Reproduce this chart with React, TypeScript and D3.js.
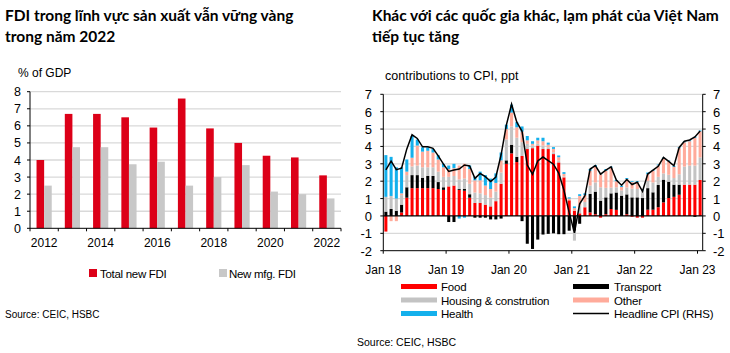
import React from "react";
import * as d3 from "d3";

// ---- left chart data (% of GDP)
const fdiYears = ["2012", "2013", "2014", "2015", "2016", "2017", "2018", "2019", "2020", "2021", "2022"];
const totalNewFdi = [4.0, 6.7, 6.7, 6.5, 5.9, 7.6, 5.85, 5.0, 4.25, 4.15, 3.1];
const newMfgFdi = [2.5, 4.75, 4.75, 3.75, 3.9, 2.5, 3.0, 3.7, 2.15, 2.0, 1.75];
const fdiTickYears = ["2012", "2014", "2016", "2018", "2020", "2022"];
const fdiYTicks = [0, 1, 2, 3, 4, 5, 6, 7, 8];

// ---- right chart data (contributions to CPI, ppt), monthly Jan 18 .. Jan 23
const food = [
  -0.9, 0, 0, 0.2, 1.05, 1.6, 1.6, 1.6, 1.6, 1.6, 1.55, 1.5,
  1.7, 1.75, 1.5, 1.45, 1.05, 0.75, 0.75, 0.65, 0.55, 0.85, 1.85, 3.0,
  3.6, 3.1, 3.45, 3.85, 3.9, 4.05, 3.85, 3.85, 3.56, 3.08, 2.22, 0.9,
  0.3, 0.15, 0.5, 0.2, 0.1, -0.1, 0.1, 0.4, 0.35, 0, 0.1, -0.05,
  -0.1, -0.1, 0.36, 0.36, 0.5, 0.78, 1.03, 1.1, 1.22, 1.8, 1.8, 1.8,
  2.07,
];
const transport = [
  0.25, 0.4, 0.3, 0.45, 0.6, 0.75, 0.75, 0.6, 0.7, 0.7, 0.4, 0.15,
  -0.35, -0.35, 0.05, 0.1, 0.2, -0.1, -0.1, -0.1, -0.2, -0.2, -0.15, 0.2,
  0.5, 0.3, -0.3, -1.6, -1.9, -1.36, -1.07, -1.03, -1.0, -1.05, -1.05, -0.85,
  -0.85, -0.45, 0, 1.07, 1.3, 0.88, 0.97, 0.9, 1.0, 1.17, 1.14, 1.07,
  1.07, 1.03, 1.24, 1.0, 1.28, 1.31, 0.94, 0.7, 0.58, 0, 0, -0.05,
  0,
];
const housing = [
  0.85, 0.75, 0.7, 0.55, 0.7, 0.5, 0.55, 0.6, 0.5, 0.5, 0.6, 0.6,
  0.55, 0.55, 0.55, 0.6, 0.6, 0.6, 0.55, 0.55, 0.5, 0.55, 0.65, 1.2,
  1.05, 1.1, 0.8, 0.3, 0.15, 0.1, 0.2, 0.1, 0.1, 0.1, 0.05, 0,
  -0.57, 0.45, 0.3, 0.48, 0.53, 0.77, 0.55, 0.33, 0.3, 0.3, 0.4, 0.5,
  0.48, 0.45, 0.42, 0.57, 0.47, 0.36, 0.4, 0.38, 0.6, 1.04, 1.1, 1.1,
  1.3,
];
const other = [
  0, -0.3, -0.3, 0.1, 0.2, 0.5, 1.15, 0.9, 0.95, 0.85, 0.7, 0.55,
  0.45, 0.45, 0.8, 0.85, 0.85, 0.7, 0.75, 0.55, 0.5, 0.5, 0.7, 0.6,
  0.8, 0.6, 0.6, 0.2, 0.1, 0.2, 0.25, 0.15, 0.2, 0.2, 0.15, 0.1,
  0.15, 0.55, 0.4, 0.85, 0.9, 0.75, 0.98, 1.15, 0.35, 0.2, 0.48, 0.38,
  0.4, 0.0, 0.38, 0.67, 0.66, 0.85, 0.78, 0.65, 1.5, 1.4, 1.4, 1.6,
  1.5,
];
const health = [
  2.4, 2.25, 1.8, 1.5, 0.7, 1.25, 0.35, 0.25, 0.2, 0.2, 0.25, 0.2,
  0.2, 0.25, -0.15, -0.1, 0.2, 0.2, 0.5, 0.6, 0.6, 0.55, 0.45, 0.25,
  0.45, 0.3, 0.3, 0.25, 0.15, 0.15, 0.2, 0.12, 0.1, 0.1, 0.1, 0.07,
  0.1, 0.1, 0.1, 0.1, 0.1, 0.05, 0.1, 0.06, 0.07, 0.07, 0.06, 0.05,
  0.05, 0.05, 0.1, 0.05, 0.05, 0.05, 0.05, 0.05, 0.05, 0.05, 0.05, 0.05,
  0.05,
];
const headlineCpi = [
  2.65, 3.15, 2.66, 2.75, 3.86, 4.67, 4.46, 3.98, 3.98, 3.89, 3.46, 2.98,
  2.56, 2.64, 2.7, 2.93, 2.88, 2.16, 2.44, 2.26, 1.98, 2.24, 3.52, 5.23,
  6.43, 5.4, 4.87, 2.93, 2.4, 3.17, 3.39, 3.18, 2.98, 2.47, 1.48, 0.19,
  -0.97, 0.7, 1.16, 2.7, 2.9, 2.41, 2.64, 2.82, 2.06, 1.77, 2.1, 1.81,
  1.94, 1.42, 2.41, 2.64, 2.86, 3.37, 3.14, 2.89, 3.94, 4.3, 4.37, 4.55,
  4.89,
];
const cpiTickLabels = ["Jan 18", "Jan 19", "Jan 20", "Jan 21", "Jan 22", "Jan 23"];
const cpiYTicks = [-2, -1, 0, 1, 2, 3, 4, 5, 6, 7];

const seriesKeys = ["food", "transport", "housing", "other", "health"];
const seriesColors: Record<string, string> = {
  food: "#ff0000",
  transport: "#000000",
  housing: "#c3c3c3",
  other: "#ffab9b",
  health: "#14b0ec",
};

const labelFont = "'Liberation Sans', Arial, sans-serif";
const titleFont = "Lato, 'Noto Sans', sans-serif";

const FdiChart = () => {
  const x = d3.scaleBand().domain(fdiYears).range([30, 341]).padding(0);
  const inner = d3
    .scaleBand()
    .domain(["total", "mfg"])
    .range([0, x.bandwidth()])
    .paddingInner(0)
    .paddingOuter(0.86);
  const y = d3.scaleLinear().domain([0, 8]).range([228.3, 91.7]);
  const boundaries = [...fdiYears.map((d) => x(d)!), x.range()[1]];

  return (
    <g>
      <text x={5} y={21} fontFamily={titleFont} fontWeight={700} fontSize={15.5}>
        FDI trong lĩnh vực sản xuất vẫn vững vàng
      </text>
      <text x={5} y={42} fontFamily={titleFont} fontWeight={700} fontSize={15.5}>
        trong năm 2022
      </text>
      <text x={18} y={77} fontFamily={labelFont} fontSize={12}>
        % of GDP
      </text>
      {fdiYTicks.filter((t) => t > 0).map((t) => (
        <line key={t} x1={30} x2={341} y1={y(t)} y2={y(t)} stroke="#d9d9d9" strokeWidth={1.3} />
      ))}
      {fdiYears.map((yr, i) => (
        <g key={yr}>
          <rect
            x={x(yr)! + inner("total")!}
            y={y(totalNewFdi[i])}
            width={inner.bandwidth()}
            height={y(0) - y(totalNewFdi[i])}
            fill="#dc0018"
          />
          <rect
            x={x(yr)! + inner("mfg")!}
            y={y(newMfgFdi[i])}
            width={inner.bandwidth()}
            height={y(0) - y(newMfgFdi[i])}
            fill="#c8c8c8"
          />
        </g>
      ))}
      <line x1={30} x2={30} y1={y(8)} y2={y(0)} stroke="#000" />
      {fdiYTicks.map((t) => (
        <g key={t}>
          <line x1={27} x2={30} y1={y(t)} y2={y(t)} stroke="#000" />
          <text x={21} y={y(t) + 4.5} textAnchor="end" fontFamily={labelFont} fontSize={12.5}>
            {t}
          </text>
        </g>
      ))}
      <line x1={30} x2={341} y1={y(0)} y2={y(0)} stroke="#000" />
      {boundaries.map((b, i) => (
        <line key={i} x1={b} x2={b} y1={y(0)} y2={y(0) + 3} stroke="#000" />
      ))}
      {fdiTickYears.map((yr) => (
        <text
          key={yr}
          x={x(yr)! + x.bandwidth() / 2}
          y={247}
          textAnchor="middle"
          fontFamily={labelFont}
          fontSize={12}
        >
          {yr}
        </text>
      ))}
      <rect x={89} y={269} width={8} height={8} fill="#dc0018" />
      <text x={100} y={278} fontFamily={labelFont} fontSize={11.5} letterSpacing={-0.3}>
        Total new FDI
      </text>
      <rect x={219} y={269} width={8} height={8} fill="#c8c8c8" />
      <text x={229} y={278} fontFamily={labelFont} fontSize={11.5} letterSpacing={-0.3}>
        New mfg. FDI
      </text>
      <text x={5} y={318} fontFamily={labelFont} fontSize={10}>
        Source: CEIC, HSBC
      </text>
    </g>
  );
};

const CpiChart = () => {
  const idx = headlineCpi.map((_, i) => i);
  const x = d3.scaleBand<number>().domain(idx).range([383.3, 702.7]).paddingInner(0.42).paddingOuter(0.2);
  const y = d3.scaleLinear().domain([-2, 7]).range([250.7, 94.3]);
  const rows = idx.map((i) => ({
    i,
    food: food[i],
    transport: transport[i],
    housing: housing[i],
    other: other[i],
    health: health[i],
  }));
  const stacked = d3
    .stack<any>()
    .keys(seriesKeys)
    .offset(d3.stackOffsetDiverging)(rows);
  const gap = (x.step() - x.bandwidth()) / 2;
  const tickX = (i: number) => x(i)! - gap;
  const line = d3
    .line<number>()
    .x((_, i) => x(i)! + x.bandwidth() / 2)
    .y((d) => y(d))
    .curve(d3.curveLinear);
  const x0 = 383.3;
  const x1 = 702.7;

  const legendRows = [
    { label: "Food", key: "food", col: 0, row: 0 },
    { label: "Housing & constrution", key: "housing", col: 0, row: 1 },
    { label: "Health", key: "health", col: 0, row: 2 },
    { label: "Transport", key: "transport", col: 1, row: 0 },
    { label: "Other", key: "other", col: 1, row: 1 },
  ];

  return (
    <g>
      <text x={372} y={21} fontFamily={titleFont} fontWeight={700} fontSize={15.5}>
        Khác với các quốc gia khác, lạm phát của Việt Nam
      </text>
      <text x={372} y={42} fontFamily={titleFont} fontWeight={700} fontSize={15.5}>
        tiếp tục tăng
      </text>
      <text x={385} y={80} fontFamily={labelFont} fontSize={12.5}>
        contributions to CPI, ppt
      </text>
      {cpiYTicks.filter((t) => t !== 0 && t !== -2).map((t) => (
        <line key={t} x1={x0} x2={x1} y1={y(t)} y2={y(t)} stroke="#d9d9d9" strokeWidth={1.3} />
      ))}
      {stacked.map((s) => (
        <g key={s.key} fill={seriesColors[s.key]}>
          {s.map((d, i) => (
            <rect
              key={i}
              x={x(i)}
              y={y(Math.max(d[0], d[1]))}
              width={x.bandwidth()}
              height={Math.abs(y(d[0]) - y(d[1]))}
            />
          ))}
        </g>
      ))}
      <line x1={x0} x2={x1} y1={y(0)} y2={y(0)} stroke="#000" strokeWidth={1.2} />
      <path d={line(headlineCpi) || ""} fill="none" stroke="#000" strokeWidth={1.5} />
      <line x1={x0} x2={x0} y1={y(7)} y2={y(-2)} stroke="#000" />
      <line x1={x1} x2={x1} y1={y(7)} y2={y(-2)} stroke="#000" />
      <line x1={x0} x2={x1} y1={y(-2)} y2={y(-2)} stroke="#000" />
      {cpiYTicks.map((t) => (
        <g key={t}>
          <line x1={x0 - 3} x2={x0} y1={y(t)} y2={y(t)} stroke="#000" />
          <line x1={x1} x2={x1 + 3} y1={y(t)} y2={y(t)} stroke="#000" />
          <text x={372} y={y(t) + 5} textAnchor="end" fontFamily={labelFont} fontSize={13}>
            {t}
          </text>
          <text x={713} y={y(t) + 5} textAnchor="start" fontFamily={labelFont} fontSize={13}>
            {t}
          </text>
        </g>
      ))}
      {cpiTickLabels.map((lab, k) => {
        const tx = tickX(k * 12);
        return (
          <g key={lab}>
            <line x1={tx} x2={tx} y1={y(-2)} y2={y(-2) + 3} stroke="#000" />
            <text x={tx} y={274} textAnchor="middle" fontFamily={labelFont} fontSize={12}>
              {lab}
            </text>
          </g>
        );
      })}
      {legendRows.map((l) => (
        <g key={l.key}>
          <rect
            x={l.col === 0 ? 401 : 573}
            y={284 + l.row * 13.5}
            width={36}
            height={5}
            fill={seriesColors[l.key]}
          />
          <text
            x={l.col === 0 ? 441 : 614}
            y={291 + l.row * 13.5}
            fontFamily={labelFont}
            fontSize={11.5}
            letterSpacing={-0.2}
          >
            {l.label}
          </text>
        </g>
      ))}
      <line x1={573} x2={609} y1={313.5} y2={313.5} stroke="#000" strokeWidth={1.3} />
      <text x={614} y={318} fontFamily={labelFont} fontSize={11.5} letterSpacing={-0.2}>
        Headline CPI (RHS)
      </text>
      <text x={357} y={346} fontFamily={labelFont} fontSize={10.5}>
        Source: CEIC, HSBC
      </text>
    </g>
  );
};

export default function App() {
  return (
    <svg
      width={730}
      height={353}
      style={{ position: "absolute", left: 0, top: 0, background: "#fff" }}
    >
      <FdiChart />
      <CpiChart />
    </svg>
  );
}
